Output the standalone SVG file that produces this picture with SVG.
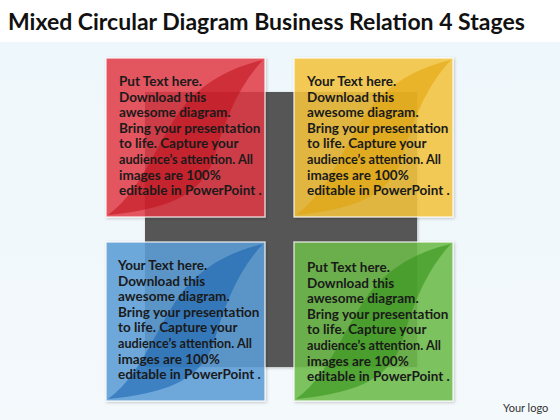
<svg xmlns="http://www.w3.org/2000/svg" width="560" height="420" viewBox="0 0 560 420">
<defs>
<linearGradient id="bg" x1="0" y1="0" x2="0" y2="1">
<stop offset="0" stop-color="#eef7fb"/>
<stop offset="1" stop-color="#f4f9fc"/>
</linearGradient>
<path id="leaf" d="M2,157 C40,130 55,70 85,40 C105,20 130,8 157,2 C132,28 118,65 108,100 C95,140 55,152 2,157 Z"/>
<filter id="sh" x="-10%" y="-10%" width="120%" height="120%">
<feDropShadow dx="1" dy="1" stdDeviation="1.5" flood-color="#000" flood-opacity="0.25"/>
</filter>
</defs>
<style>
.t{font-family:"Lato","Liberation Sans",sans-serif;font-weight:bold;font-size:13.5px;fill:#1a1a1a}
.title{font-family:"Lato","Liberation Sans",sans-serif;font-weight:bold;font-size:23px;fill:#111}
.logo{font-family:"Lato","Liberation Sans",sans-serif;font-size:11px;fill:#333}
.box{stroke:#ffffff;stroke-opacity:0.7;stroke-width:1.5}
</style>
<rect x="0" y="0" width="560" height="420" fill="#ffffff"/>
<rect x="0" y="42" width="560" height="378" fill="url(#bg)"/>
<text class="title" x="8" y="30">Mixed Circular Diagram Business Relation 4 Stages</text>
<g id="center">
<rect x="145" y="92" width="272" height="275" fill="#575757" filter="url(#sh)"/>
</g>
<g id="stage1" transform="translate(106,58)">
<rect class="box" width="159" height="159" fill="#e53a45" fill-opacity="0.82" filter="url(#sh)"/>
<use href="#leaf" fill="#c0101a" fill-opacity="0.55"/>
<text class="t" x="13" y="28">Put Text here.<tspan x="13" dy="15.6">Download this</tspan><tspan x="13" dy="15.6">awesome diagram.</tspan><tspan x="13" dy="15.6">Bring your presentation</tspan><tspan x="13" dy="15.6">to life. Capture your</tspan><tspan x="13" dy="15.6" textLength="134" lengthAdjust="spacingAndGlyphs">audience’s attention. All</tspan><tspan x="13" dy="15.6">images are 100%</tspan><tspan x="13" dy="15.6">editable in PowerPoint .</tspan></text>
</g>
<g id="stage2" transform="translate(294,58)">
<rect class="box" width="159" height="159" fill="#f7c63e" fill-opacity="0.85" filter="url(#sh)"/>
<use href="#leaf" fill="#e0a000" fill-opacity="0.5"/>
<text class="t" x="13" y="28">Your Text here.<tspan x="13" dy="15.6">Download this</tspan><tspan x="13" dy="15.6">awesome diagram.</tspan><tspan x="13" dy="15.6">Bring your presentation</tspan><tspan x="13" dy="15.6">to life. Capture your</tspan><tspan x="13" dy="15.6" textLength="134" lengthAdjust="spacingAndGlyphs">audience’s attention. All</tspan><tspan x="13" dy="15.6">images are 100%</tspan><tspan x="13" dy="15.6">editable in PowerPoint .</tspan></text>
</g>
<g id="stage3" transform="translate(106,242)">
<rect class="box" width="159" height="159" fill="#5da0da" fill-opacity="0.85" filter="url(#sh)"/>
<use href="#leaf" fill="#1560ad" fill-opacity="0.55"/>
<text class="t" x="12" y="28">Your Text here.<tspan x="12" dy="15.6">Download this</tspan><tspan x="12" dy="15.6">awesome diagram.</tspan><tspan x="12" dy="15.6">Bring your presentation</tspan><tspan x="12" dy="15.6">to life. Capture your</tspan><tspan x="12" dy="15.6" textLength="134" lengthAdjust="spacingAndGlyphs">audience’s attention. All</tspan><tspan x="12" dy="15.6">images are 100%</tspan><tspan x="12" dy="15.6">editable in PowerPoint .</tspan></text>
</g>
<g id="stage4" transform="translate(294,242)">
<rect class="box" width="159" height="159" fill="#6fbd4a" fill-opacity="0.85" filter="url(#sh)"/>
<use href="#leaf" fill="#2f8f15" fill-opacity="0.55"/>
<text class="t" x="13" y="30">Put Text here.<tspan x="13" dy="15.6">Download this</tspan><tspan x="13" dy="15.6">awesome diagram.</tspan><tspan x="13" dy="15.6">Bring your presentation</tspan><tspan x="13" dy="15.6">to life. Capture your</tspan><tspan x="13" dy="15.6" textLength="134" lengthAdjust="spacingAndGlyphs">audience’s attention. All</tspan><tspan x="13" dy="15.6">images are 100%</tspan><tspan x="13" dy="15.6">editable in PowerPoint .</tspan></text>
</g>
<text class="logo" x="503" y="412">Your logo</text>
</svg>
